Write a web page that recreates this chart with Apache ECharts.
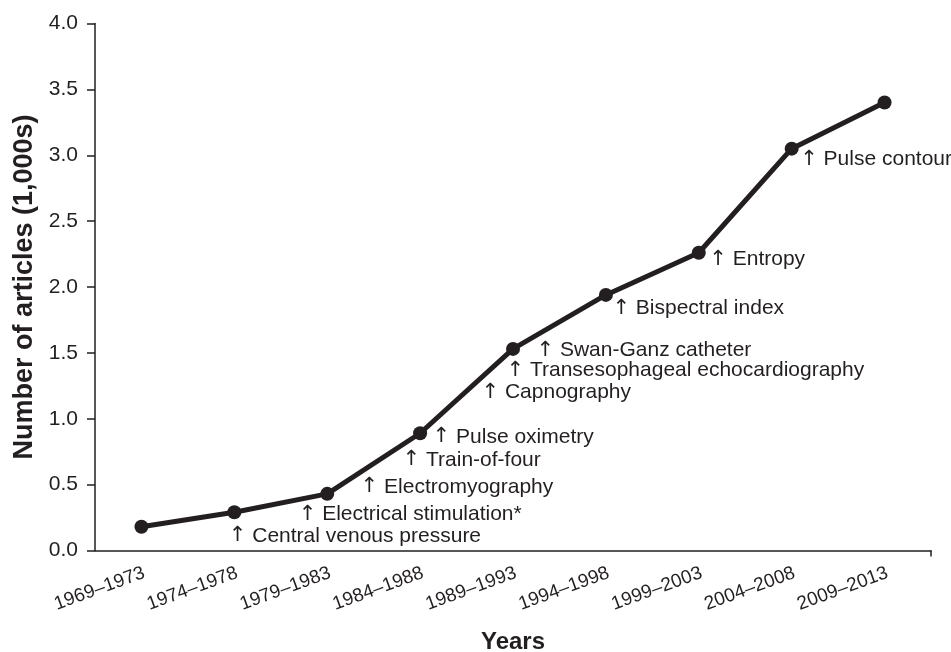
<!DOCTYPE html>
<html>
<head>
<meta charset="utf-8">
<script src="https://cdn.jsdelivr.net/npm/echarts@6/dist/echarts.min.js"></script>
<style>
html,body{margin:0;padding:0;background:#fff;}
#chart{width:951px;height:652px;}
</style>
</head>
<body>
<div id="chart"></div>
<script>
// ---- data ----
var categories = ['1969\u20131973','1974\u20131978','1979\u20131983','1984\u20131988','1989\u20131993','1994\u20131998','1999\u20132003','2004\u20132008','2009\u20132013'];
var articles = [0.18, 0.29, 0.43, 0.89, 1.53, 1.94, 2.26, 3.05, 3.40];
var yTicks = [0, 0.5, 1.0, 1.5, 2.0, 2.5, 3.0, 3.5, 4.0];
var annotationTexts = ['Central venous pressure','Electrical stimulation*','Electromyography','Train-of-four','Pulse oximetry','Capnography','Transesophageal echocardiography','Swan-Ganz catheter','Bispectral index','Entropy','Pulse contour'];
var annotationCategory = [1, 2, 3, 3, 3, 4, 4, 4, 5, 6, 7];

// ---- styles / label placement (pixel offsets from the related point) ----
var annotationOffsets = [[-5,24],[-28,21],[-59,54],[-17,27],[13,4],[-31,44],[-6,22],[24,2],[7,14],[11,7],[9,11]];
var FONT = '"Liberation Sans", Arial, Helvetica, sans-serif';
var INK = '#231f20';

var markData = annotationTexts.map(function (t, i) {
  var ci = annotationCategory[i];
  return {
    coord: [categories[ci], articles[ci]],
    symbol: 'circle',
    symbolSize: 1,
    itemStyle: {color: 'rgba(0,0,0,0)'},
    label: {
      show: true,
      formatter: '{a|\u2191} ' + t,
      position: annotationOffsets[i],
      align: 'left',
      verticalAlign: 'middle',
      color: INK,
      fontSize: 21,
      fontFamily: FONT,
      rich: {
        a: {fontFamily: '"DejaVu Sans", sans-serif', fontSize: 21, color: INK, fontWeight: 'normal'}
      }
    }
  };
});

var chart = echarts.init(document.getElementById('chart'), null, {renderer: 'canvas'});
chart.setOption({
  animation: false,
  backgroundColor: '#ffffff',
  grid: {left: 95, right: 20, top: 23.5, bottom: 101.5, containLabel: false, outerBoundsMode: 'none'},
  xAxis: [{
    type: 'category',
    data: categories,
    boundaryGap: true,
    name: 'Years',
    nameLocation: 'middle',
    nameGap: 80,
    nameTextStyle: {fontSize: 24, fontWeight: 'bold', color: INK, fontFamily: FONT},
    axisLine: {lineStyle: {color: INK, width: 1.5}},
    axisTick: {alignWithLabel: true, length: 6, lineStyle: {color: INK, width: 1.5}},
    axisLabel: {interval: 0, rotate: 20, margin: 23, padding: [0, -3, 0, 0], fontSize: 19, color: INK, fontFamily: FONT},
    splitLine: {show: false}
  }, {
    type: 'value',
    min: 0, max: 1, interval: 1,
    position: 'bottom',
    axisLine: {show: false},
    axisLabel: {show: false},
    splitLine: {show: false},
    axisTick: {show: true, length: 6, customValues: [1], lineStyle: {color: INK, width: 1.5}}
  }],
  yAxis: {
    type: 'value',
    min: yTicks[0],
    max: yTicks[yTicks.length - 1],
    interval: yTicks[1] - yTicks[0],
    name: 'Number of articles (1,000s)',
    nameLocation: 'middle',
    nameRotate: 90,
    nameGap: 55,
    nameTextStyle: {fontSize: 27, fontWeight: 'bold', color: INK, fontFamily: FONT},
    axisLine: {show: true, lineStyle: {color: INK, width: 1.5}},
    axisTick: {show: true, length: 8, lineStyle: {color: INK, width: 1.5}},
    axisLabel: {margin: 17, fontSize: 21, color: INK, fontFamily: FONT, formatter: function (v) { return v.toFixed(1); }},
    splitLine: {show: false}
  },
  series: [{
    type: 'line',
    xAxisIndex: 0,
    data: articles,
    symbol: 'circle',
    symbolSize: 14,
    lineStyle: {color: INK, width: 5},
    itemStyle: {color: INK},
    markPoint: {
      silent: true,
      data: markData
    }
  }]
});
</script>
</body>
</html>
